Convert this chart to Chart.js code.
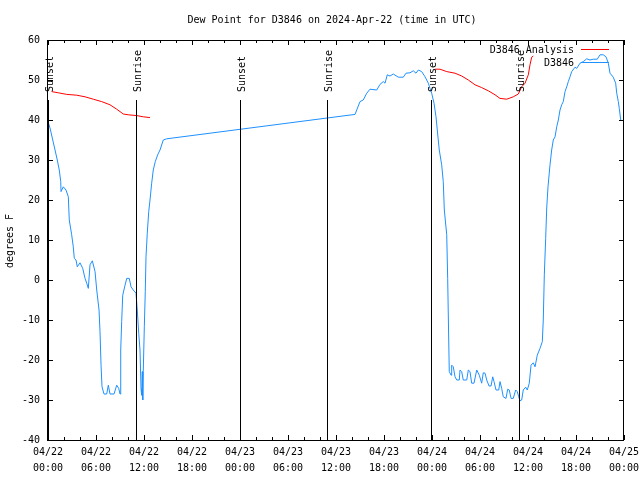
<!DOCTYPE html>
<html><head><meta charset="utf-8">
<script src="https://cdn.jsdelivr.net/npm/chart.js@4.4.1/dist/chart.umd.min.js"></script>
<style>html,body{margin:0;padding:0;background:#fff}#wrap{width:640px;height:480px}</style>
</head><body><div id="wrap"><canvas id="c" width="640" height="480"></canvas></div>
<script>
const titleText = 'Dew Point for D3846 on 2024-Apr-22 (time in UTC)';
const yAxisTitle = 'degrees F';
const xTickDates = ['04/22','04/22','04/22','04/22','04/23','04/23','04/23','04/23','04/24','04/24','04/24','04/24','04/25'];
const xTickTimes = ['00:00','06:00','12:00','18:00','00:00','06:00','12:00','18:00','00:00','06:00','12:00','18:00','00:00'];
const seriesNames = ['D3846 Analysis', 'D3846'];

// observed dew point (hours since 04/22 00:00 UTC)
const obsHours = [0.00,0.25,0.88,1.16,1.41,1.59,1.63,1.91,2.25,2.54,2.66,2.96,3.16,3.29,3.50,3.66,4.00,4.34,4.63,4.84,5.04,5.25,5.54,5.88,6.09,6.38,6.50,6.63,6.75,7.00,7.34,7.54,7.75,8.25,8.59,8.84,9.00,9.09,9.21,9.34,9.63,9.84,10.16,10.38,10.66,11.00,11.16,11.34,11.50,11.63,11.71,11.79,11.84,11.91,12.04,12.16,12.25,12.41,12.59,12.75,12.96,13.16,13.41,13.71,14.00,14.41,14.84,
38.38,38.59,39.00,39.41,39.84,40.25,41.09,41.50,41.91,42.13,42.41,42.75,43.16,43.79,44.41,44.75,45.25,45.66,46.00,46.29,46.71,47.13,47.54,47.75,47.96,48.25,48.50,48.66,48.91,49.21,49.41,49.54,49.84,49.96,50.09,50.16,50.38,50.46,50.66,50.88,51.09,51.41,51.50,51.71,51.91,52.34,52.54,52.75,52.96,53.25,53.59,53.91,54.21,54.41,54.63,54.84,55.13,55.38,55.59,55.75,56.00,56.34,56.50,56.71,56.91,57.25,57.46,57.66,57.88,58.16,58.46,58.66,58.84,59.00,59.21,59.41,59.71,59.91,60.16,60.38,60.66,60.88,61.16,61.50,61.79,61.91,62.04,62.21,62.34,62.50,62.75,62.96,63.16,63.38,63.59,63.79,64.00,64.21,64.41,64.63,64.84,65.04,65.25,65.46,65.88,66.09,66.50,66.91,67.34,67.75,68.16,68.66,69.00,69.41,69.75,70.04,70.25,70.66,70.96,71.09,71.29,71.41,71.59];
const obsValues = [39.6,38.0,32.5,30.0,27.5,24.6,22.1,23.3,22.5,20.8,15.0,11.3,8.3,5.4,5.0,3.3,4.3,2.9,0.4,-0.8,-2.1,3.8,4.8,2.1,-2.5,-7.5,-12.9,-21.3,-26.7,-28.5,-28.5,-26.3,-28.5,-28.5,-26.3,-27.1,-28.5,-17.5,-10.4,-3.8,-1.3,0.4,0.4,-1.7,-2.5,-3.3,-7.5,-13.3,-17.5,-27.3,-28.8,-22.9,-30.0,-22.9,-11.7,-2.9,5.8,11.7,17.1,20.0,24.2,27.5,29.6,31.3,32.5,35.0,35.3,
41.4,42.5,44.6,45.0,46.7,47.7,47.5,48.9,49.6,49.2,51.3,51.0,51.5,50.7,50.7,51.7,51.8,52.3,51.7,52.5,52.1,50.8,49.2,47.9,46.7,44.2,40.8,37.5,32.5,28.8,24.6,17.5,11.3,0.4,-15.0,-22.9,-23.8,-21.3,-21.7,-24.2,-25.0,-25.0,-22.5,-22.9,-25.0,-25.0,-22.5,-22.9,-25.8,-25.8,-22.5,-23.8,-25.8,-23.2,-23.3,-25.0,-26.5,-26.5,-24.2,-25.4,-27.5,-27.5,-25.4,-27.1,-29.2,-29.6,-27.3,-27.5,-29.6,-29.6,-27.5,-27.9,-29.2,-30.2,-30.0,-27.5,-26.8,-27.5,-25.8,-21.3,-20.7,-21.7,-18.8,-17.1,-15.4,-10.0,1.3,10.4,18.0,23.3,28.8,32.5,35.0,35.8,38.3,40.0,42.5,43.8,44.6,47.1,48.3,49.6,50.8,52.1,53.2,52.9,54.2,54.6,55.3,55.0,55.2,55.2,56.3,56.3,55.8,54.2,51.7,50.7,49.2,46.7,44.6,42.9,40.0];

// analysis dew point (null = gap)
const anaHours = [0.46,1.29,2.34,3.59,4.63,5.66,6.71,7.75,8.59,9.41,10.04,11.09,11.91,12.75,30.0,48.38,49.00,49.84,50.88,51.71,52.54,53.38,54.21,55.04,55.88,56.50,57.34,58.16,58.79,59.21,59.63,60.04,60.25,60.46,60.66];
const anaValues = [47.1,46.8,46.4,46.2,45.8,45.2,44.6,43.8,42.7,41.5,41.3,41.1,40.8,40.6,null,52.7,52.7,52.1,51.7,51.0,50.0,48.8,48.1,47.3,46.3,45.4,45.2,45.8,46.5,48.3,49.2,51.3,53.8,55.7,56.0];

const sunHours = [0.0, 11.0, 24.0, 34.9, 47.9, 58.9];
const sunLabels = ['Sunset','Sunrise','Sunset','Sunrise','Sunset','Sunrise'];
const sunLineTop = 45;

const FONT = '"DejaVu Sans Mono", "Liberation Mono", monospace';
const BLUE = '#1e90ff', RED = '#ff0000';

const overlay = {
  id: 'overlay',
  afterDraw(chart) {
    const ctx = chart.ctx, a = chart.chartArea;
    const xs = chart.scales.x, ys = chart.scales.y;
    ctx.save();
    ctx.strokeStyle = '#000'; ctx.lineWidth = 1;
    // frame
    ctx.strokeRect(Math.round(a.left) - 0.5, Math.round(a.top) + 0.5, Math.round(a.right - a.left), Math.round(a.bottom - a.top));
    // inward ticks
    ctx.beginPath();
    for (let h = xs.min; h <= xs.max; h += 2) {
      const px = Math.round(xs.getPixelForValue(h)) + 0.5;
      const len = (h % 6 === 0) ? 5 : 3;
      ctx.moveTo(px, a.bottom); ctx.lineTo(px, a.bottom - len);
      ctx.moveTo(px, a.top); ctx.lineTo(px, a.top + len);
    }
    ys.ticks.forEach(t => {
      const py = Math.round(ys.getPixelForValue(t.value)) + 0.5;
      ctx.moveTo(a.left, py); ctx.lineTo(a.left + 5, py);
      ctx.moveTo(a.right, py); ctx.lineTo(a.right - 5, py);
    });
    ctx.stroke();
    ctx.font = '10px ' + FONT;
    ctx.fillStyle = '#000';
    // tick labels
    ctx.textAlign = 'center'; ctx.textBaseline = 'middle';
    xs.ticks.forEach(t => {
      const i = Math.round(t.value / 6);
      const px = xs.getPixelForValue(t.value);
      ctx.fillText(xTickDates[i], px, 452);
      ctx.fillText(xTickTimes[i], px, 468);
    });
    ctx.textAlign = 'right';
    ys.ticks.forEach(t => {
      ctx.fillText(String(t.value), 40, ys.getPixelForValue(t.value));
    });
    // sunrise / sunset lines
    const topPx = ys.getPixelForValue(sunLineTop);
    sunHours.forEach((h, i) => {
      const px = Math.round(xs.getPixelForValue(h)) + 0.5;
      ctx.beginPath();
      ctx.moveTo(px, topPx); ctx.lineTo(px, a.bottom);
      ctx.stroke();
      ctx.save();
      ctx.translate(px + 1.5, topPx - 8);
      ctx.rotate(-Math.PI / 2);
      ctx.textAlign = 'left'; ctx.textBaseline = 'middle';
      ctx.fillText(sunLabels[i], 0, 0);
      ctx.restore();
    });
    // legend
    ctx.textAlign = 'right'; ctx.textBaseline = 'middle';
    const legColors = [RED, BLUE];
    seriesNames.forEach((n, i) => {
      const y = 50 + i * 13;
      ctx.fillStyle = '#000';
      ctx.fillText(n, 574, y);
      ctx.strokeStyle = legColors[i];
      ctx.beginPath(); ctx.moveTo(581, y - 0.5); ctx.lineTo(609, y - 0.5); ctx.stroke();
    });
    // title
    ctx.fillStyle = '#000';
    ctx.textAlign = 'center'; ctx.textBaseline = 'middle';
    ctx.fillText(titleText, 332, 20);
    // y axis title
    ctx.save();
    ctx.translate(10, 241);
    ctx.rotate(-Math.PI / 2);
    ctx.fillText(yAxisTitle, 0, 0);
    ctx.restore();
    ctx.restore();
  }
};

new Chart(document.getElementById('c'), {
  type: 'line',
  data: {
    datasets: [
      { label: seriesNames[1], data: obsHours.map((h, i) => ({x: h, y: obsValues[i]})),
        borderColor: BLUE, borderWidth: 1, pointRadius: 0, tension: 0, spanGaps: false },
      { label: seriesNames[0], data: anaHours.map((h, i) => ({x: h, y: anaValues[i]})),
        borderColor: RED, borderWidth: 1, pointRadius: 0, tension: 0, spanGaps: false }
    ]
  },
  options: {
    responsive: false, animation: false, devicePixelRatio: 1,
    layout: { padding: { left: 0, right: 16, top: 40, bottom: 0 } },
    plugins: { legend: { display: false }, tooltip: { enabled: false }, title: { display: false } },
    scales: {
      x: {
        type: 'linear', min: 0, max: 72,
        grid: { display: false }, border: { display: false },
        ticks: { display: false, stepSize: 6, autoSkip: false },
        afterFit: s => { s.height = 40; s.paddingLeft = 0; s.paddingRight = 0; }
      },
      y: {
        min: -40, max: 60,
        grid: { display: false }, border: { display: false },
        ticks: { display: false, stepSize: 10 },
        afterFit: s => { s.width = 48; s.paddingTop = 0; s.paddingBottom = 0; }
      }
    }
  },
  plugins: [overlay]
});
</script>
</body></html>
